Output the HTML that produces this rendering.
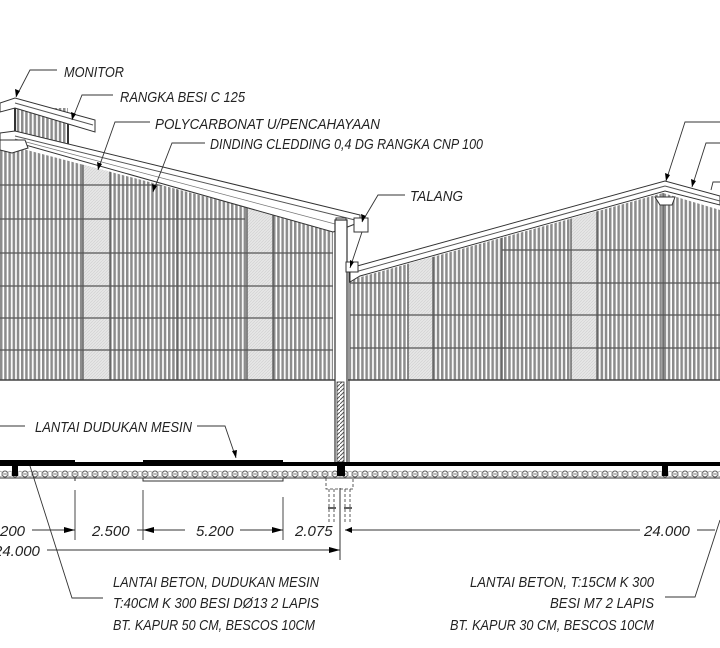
<!DOCTYPE html>
<html><head><meta charset="utf-8"><style>
html,body{margin:0;padding:0;background:#fff;}
svg{display:block;}
text{font-family:"Liberation Sans Narrow","Liberation Sans",sans-serif;font-style:italic;fill:#222;font-size:15px;}
</style></head><body>
<svg width="720" height="648" viewBox="0 0 720 648" xmlns="http://www.w3.org/2000/svg">
<defs>
<pattern id="st" width="4.2" height="10" patternUnits="userSpaceOnUse">
<rect width="4.2" height="10" fill="#fff"/><rect x="0" width="2.5" height="10" fill="#8c8c8c"/>
</pattern>
<pattern id="lt" width="3" height="3" patternUnits="userSpaceOnUse">
<rect width="3" height="3" fill="#e6e6e6"/><path d="M0 3L3 0" stroke="#cfcfcf" stroke-width="0.6"/>
</pattern>
<pattern id="gr" width="10" height="12" patternUnits="userSpaceOnUse">
<rect width="10" height="12" fill="#fff"/><circle cx="5" cy="6" r="3" fill="none" stroke="#555" stroke-width="0.9"/><path d="M0 3L10 9M0 9L10 3" stroke="#888" stroke-width="0.6"/>
</pattern>
<pattern id="hc" width="4" height="4" patternUnits="userSpaceOnUse">
<rect width="4" height="4" fill="#fff"/><path d="M0 4L4 0" stroke="#555" stroke-width="1"/>
</pattern>
<clipPath id="lw"><polygon points="0,143 333,230 333,380 0,380"/></clipPath>
<clipPath id="rw"><polygon points="350,280 663,193 720,210 720,380 350,380"/></clipPath>
</defs>

<g clip-path="url(#lw)">
<rect x="0" y="130" width="335" height="252" fill="url(#st)"/>
<rect x="83" y="130" width="27" height="252" fill="url(#lt)"/>
<rect x="247" y="130" width="26" height="252" fill="url(#lt)"/>
<g stroke="#555" stroke-width="1.3">
<line x1="0" y1="185" x2="333" y2="185"/><line x1="0" y1="219" x2="245" y2="219"/>
<line x1="0" y1="253" x2="333" y2="253"/><line x1="0" y1="286" x2="333" y2="286"/>
<line x1="0" y1="318" x2="333" y2="318"/><line x1="0" y1="350" x2="333" y2="350"/>
<line x1="83" y1="130" x2="83" y2="380"/><line x1="110" y1="130" x2="110" y2="380"/>
<line x1="177" y1="130" x2="177" y2="380"/><line x1="247" y1="130" x2="247" y2="380"/>
<line x1="273" y1="130" x2="273" y2="380"/>
</g>
</g>
<line x1="0" y1="380" x2="335" y2="380" stroke="#444" stroke-width="1.5"/>
<rect x="15" y="108" width="53" height="37" fill="url(#st)"/>
<line x1="68" y1="118" x2="68" y2="150" stroke="#333" stroke-width="2"/>
<line x1="15" y1="102" x2="15" y2="145" stroke="#333" stroke-width="2"/>
<polygon points="0,103 15,98 95,120 95,132 15,108 0,112" fill="#fff" stroke="#333" stroke-width="1"/>
<line x1="15" y1="103" x2="93" y2="125" stroke="#555" stroke-width="1"/>
<polygon points="0,133 15,131 360,215 360,222 345,228 333,232 15,142 0,146" fill="#fff" stroke="#333" stroke-width="1"/>
<line x1="15" y1="136" x2="355" y2="220" stroke="#555" stroke-width="1"/>
<line x1="15" y1="139" x2="335" y2="224" stroke="#777" stroke-width="0.8"/>
<polygon points="0,140 25,140 28,148 12,153 0,150" fill="#fff" stroke="#333" stroke-width="1"/>
<rect x="336" y="218" width="10" height="14" fill="#fff" stroke="#333"/>
<rect x="354" y="218" width="14" height="14" fill="#fff" stroke="#333"/>
<rect x="335" y="220" width="12" height="244" fill="#fff" stroke="#333" stroke-width="1.2"/>
<rect x="337" y="382" width="7" height="80" fill="url(#hc)" stroke="#333" stroke-width="0.8"/>

<g clip-path="url(#rw)">
<rect x="348" y="185" width="372" height="197" fill="url(#st)"/>
<rect x="408" y="185" width="25" height="197" fill="url(#lt)"/>
<rect x="571" y="185" width="26" height="197" fill="url(#lt)"/>
<g stroke="#555" stroke-width="1.3">
<line x1="502" y1="250" x2="720" y2="250"/><line x1="348" y1="283" x2="720" y2="283"/>
<line x1="348" y1="315" x2="720" y2="315"/><line x1="348" y1="348" x2="720" y2="348"/>
<line x1="408" y1="185" x2="408" y2="380"/><line x1="433" y1="185" x2="433" y2="380"/>
<line x1="502" y1="185" x2="502" y2="380"/><line x1="571" y1="185" x2="571" y2="380"/>
<line x1="597" y1="185" x2="597" y2="380"/><line x1="663" y1="185" x2="663" y2="380"/>
</g>
</g>
<line x1="348" y1="380" x2="720" y2="380" stroke="#444" stroke-width="1.5"/>
<line x1="349" y1="262" x2="349" y2="462" stroke="#333" stroke-width="1"/>
<polygon points="350,268 665,181 720,196 720,205 665,191 360,276 350,282" fill="#fff" stroke="#333" stroke-width="1"/>
<line x1="355" y1="272" x2="665" y2="186" stroke="#555" stroke-width="1"/>
<line x1="665" y1="186" x2="720" y2="201" stroke="#555" stroke-width="1"/>
<polygon points="655,197 675,197 672,205 660,205" fill="#fff" stroke="#333"/>
<rect x="346" y="262" width="12" height="10" fill="#fff" stroke="#333"/>

<rect x="0" y="466" width="720" height="12" fill="url(#gr)"/>
<line x1="0" y1="478" x2="720" y2="478" stroke="#333" stroke-width="1"/>
<rect x="0" y="462" width="720" height="4" fill="#000"/>
<rect x="0" y="460" width="75" height="6" fill="#000"/>
<rect x="143" y="460" width="140" height="6" fill="#000"/>
<rect x="12" y="466" width="6" height="10" fill="#000"/>
<rect x="337" y="466" width="8" height="10" fill="#000"/>
<rect x="662" y="466" width="6" height="10" fill="#000"/>
<path d="M143 478V481H283V478M75 478V481" stroke="#333" fill="none"/>
<g stroke="#333" stroke-width="0.8" fill="none" stroke-dasharray="3,2">
<path d="M326 478V489H353V478"/><path d="M329 489V522M334 489V522M345 489V522M350 489V522"/>
</g>
<path d="M328 508H336M344 508H352" stroke="#000" stroke-width="1.2"/>
<line x1="340" y1="488" x2="340" y2="560" stroke="#333" stroke-width="1"/>

<g stroke="#333" stroke-width="0.9" fill="none">
<line x1="75" y1="490" x2="75" y2="540"/><line x1="143" y1="490" x2="143" y2="540"/>
<line x1="283" y1="497" x2="283" y2="540"/>
<line x1="32" y1="530" x2="75" y2="530"/><line x1="137" y1="530" x2="185" y2="530"/>
<line x1="240" y1="530" x2="283" y2="530"/><line x1="345" y1="530" x2="640" y2="530"/>
<line x1="47" y1="550" x2="340" y2="550"/><line x1="697" y1="530" x2="715" y2="530"/>
</g>
<g fill="#000">
<polygon points="75,530 64,527 64,533"/><polygon points="143,530 154,527 154,533"/>
<polygon points="283,530 272,527 272,533"/><polygon points="340,550 329,547 329,553"/>
<polygon points="345,530 352,527 352,533"/>
</g>
<text x="0" y="536">200</text>
<text x="92" y="536">2.500</text>
<text x="196" y="536">5.200</text>
<text x="295" y="536">2.075</text>
<text x="-6" y="556">24.000</text>
<text x="644" y="536">24.000</text>

<g stroke="#333" stroke-width="0.9" fill="none">
<path d="M57 70H30L16 97"/>
<path d="M113 95H82L72 120"/>
<path d="M150 122H115L98 170"/>
<path d="M205 143H172L153 192"/>
<path d="M405 195H378L362 222"/>
<path d="M362 232L350 268"/>
<path d="M0 426H25"/>
<path d="M197 426H225L236 458"/>
<path d="M720 122H685L666 181"/>
<path d="M720 143H706L692 187"/>
<path d="M720 182H713L711 190"/>
<path d="M30 466L72 598H103"/>
<path d="M665 597H695L720 520"/>
</g>
<g fill="#000">
<polygon points="16,97 15,89 20,91"/><polygon points="72,120 71,112 76,114"/>
<polygon points="98,170 97,162 102,164"/><polygon points="153,192 152,184 157,186"/>
<polygon points="362,222 361,214 366,216"/><polygon points="350,268 350,260 354,262"/>
<polygon points="236,458 232,451 237,450"/><polygon points="666,181 665,173 670,175"/>
<polygon points="692,187 691,179 696,181"/>
</g>

<text x="64" y="77" textLength="60" lengthAdjust="spacingAndGlyphs">MONITOR</text>
<text x="120" y="102" textLength="125" lengthAdjust="spacingAndGlyphs">RANGKA BESI C 125</text>
<text x="155" y="129" textLength="225" lengthAdjust="spacingAndGlyphs">POLYCARBONAT U/PENCAHAYAAN</text>
<text x="210" y="149" textLength="273" lengthAdjust="spacingAndGlyphs">DINDING CLEDDING 0,4 DG RANGKA CNP 100</text>
<text x="410" y="201" textLength="53" lengthAdjust="spacingAndGlyphs">TALANG</text>
<text x="35" y="432" textLength="157" lengthAdjust="spacingAndGlyphs">LANTAI DUDUKAN MESIN</text>
<text x="113" y="587" textLength="206" lengthAdjust="spacingAndGlyphs">LANTAI BETON, DUDUKAN MESIN</text>
<text x="113" y="608" textLength="206" lengthAdjust="spacingAndGlyphs">T:40CM K 300 BESI DØ13 2 LAPIS</text>
<text x="113" y="630" textLength="202" lengthAdjust="spacingAndGlyphs">BT. KAPUR 50 CM, BESCOS 10CM</text>
<text x="470" y="587" textLength="184" lengthAdjust="spacingAndGlyphs">LANTAI BETON, T:15CM K 300</text>
<text x="550" y="608" textLength="104" lengthAdjust="spacingAndGlyphs">BESI M7 2 LAPIS</text>
<text x="450" y="630" textLength="204" lengthAdjust="spacingAndGlyphs">BT. KAPUR 30 CM, BESCOS 10CM</text>
</svg>
</body></html>
